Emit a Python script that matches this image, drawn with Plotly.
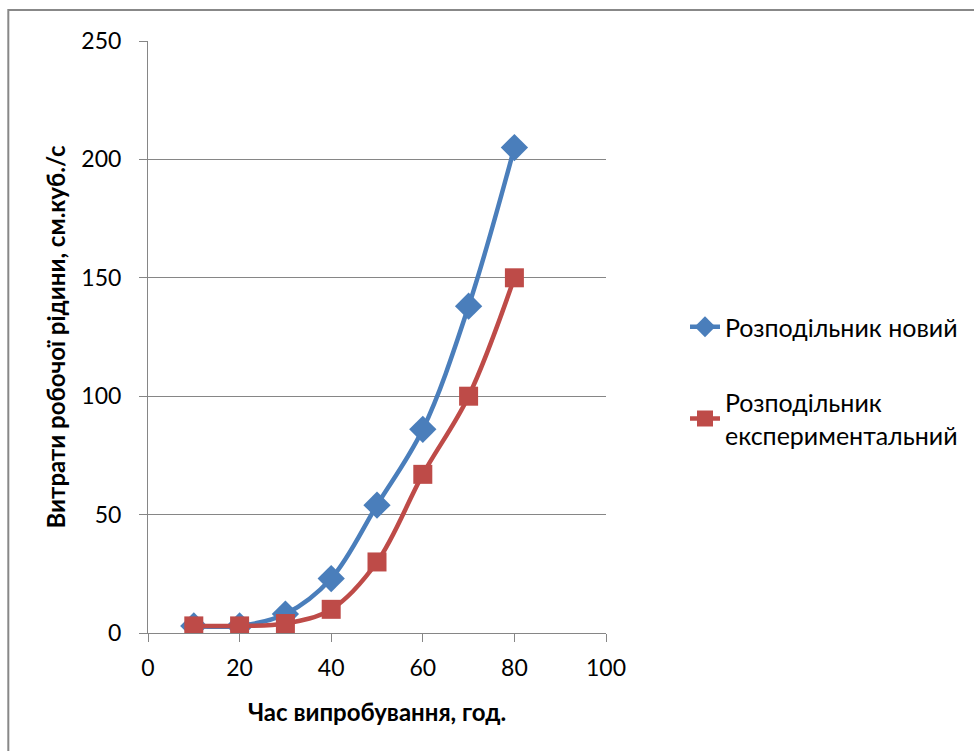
import plotly.graph_objects as go

hours = [10, 20, 30, 40, 50, 60, 70, 80]
flow_new = [3, 3, 8, 23, 54, 86, 138, 205]
flow_exp = [3, 3, 4, 10, 30, 67, 100, 150]

name_new = "Розподільник новий"
name_exp = "Розподільник<br>експериментальний"

x_ticks = [0, 20, 40, 60, 80, 100]
y_ticks = [0, 50, 100, 150, 200, 250]

blue = "#4A7EBB"
red = "#BE4B48"
grid = "#868686"
font_family = "Lato, 'Open Sans', sans-serif"

fig = go.Figure()
fig.add_trace(go.Scatter(
    x=hours, y=flow_new, name=name_new, mode="lines+markers", legendgroup="new",
    line=dict(color=blue, width=4.5, shape="spline", smoothing=1.0),
    marker=dict(symbol="diamond", size=21, color=blue),
))
fig.add_trace(go.Scatter(
    x=hours, y=flow_exp, name=name_exp, mode="lines+markers", legendgroup="exp",
    line=dict(color=red, width=4.5, shape="spline", smoothing=1.0),
    marker=dict(symbol="square", size=19, color=red),
))

W, H = 974, 751
L, R, T, B = 148, 367, 41, 118
pw, ph = W - L - R, H - T - B

def px_x(p):
    return (p - L) / pw

def px_y(p):
    return (H - B - p) / ph

fig.update_layout(
    width=W, height=H,
    margin=dict(l=L, r=R, t=T, b=B),
    paper_bgcolor="white", plot_bgcolor="white",
    font=dict(family=font_family, size=23, color="black"),
    showlegend=True,
    legend=dict(
        x=px_x(685), y=px_y(304), xanchor="left", yanchor="top",
        font=dict(size=25), traceorder="grouped", tracegroupgap=40,
        bgcolor="rgba(0,0,0,0)",
    ),
    xaxis=dict(
        range=[0, 100], tickvals=x_ticks, showgrid=False, zeroline=False,
        showline=True, linecolor=grid, linewidth=1,
        ticks="outside", ticklen=8, tickcolor=grid, ticklabelstandoff=6,
        tickfont=dict(size=23),
        title=dict(text="<b>Час випробування, год.</b>", font=dict(size=24), standoff=24),
    ),
    yaxis=dict(
        range=[0, 250], tickvals=y_ticks, showgrid=True, gridcolor=grid, gridwidth=1,
        zeroline=False, showline=True, linecolor=grid, linewidth=1,
        ticks="outside", ticklen=8, tickcolor=grid, ticklabelstandoff=13,
        tickfont=dict(size=23),
        title=dict(text="<b>Витрати робочої рідини, см.куб./с</b>", font=dict(size=24), standoff=8),
    ),
    shapes=[dict(
        type="rect", xref="paper", yref="paper",
        x0=px_x(8), y0=px_y(790), x1=px_x(1000), y1=px_y(10),
        line=dict(color="#888888", width=2), fillcolor="rgba(0,0,0,0)", layer="below",
    )],
)

fig.write_html("out.html")
